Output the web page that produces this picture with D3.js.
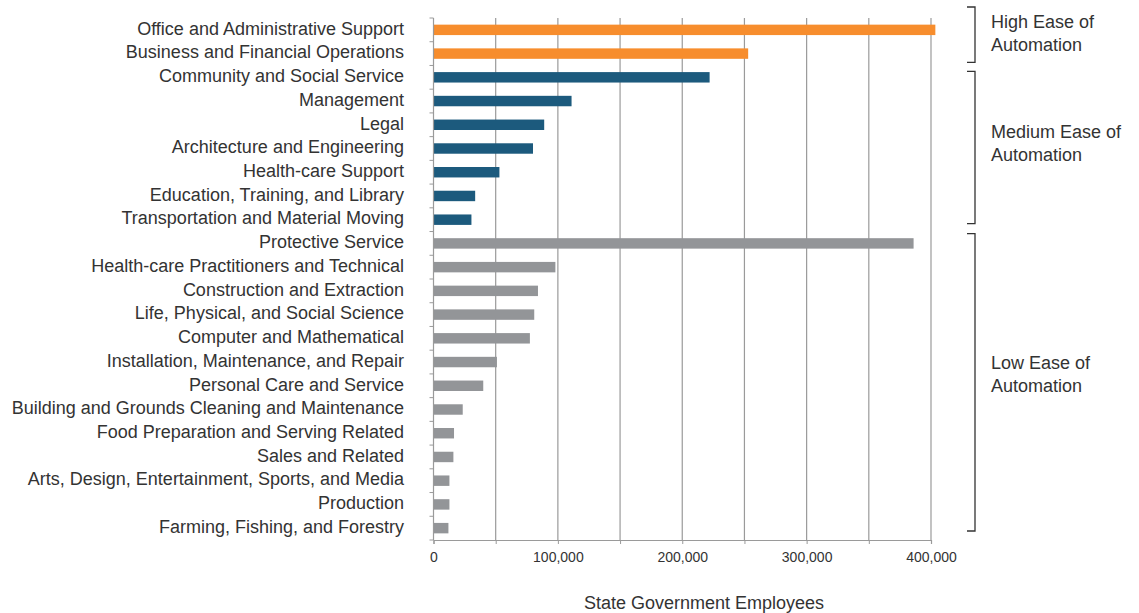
<!DOCTYPE html>
<html>
<head>
<meta charset="utf-8">
<script src="https://cdn.jsdelivr.net/npm/d3@7"></script>
<style>
  body { margin: 0; background: #fff; }
  svg { display: block; font-family: "Liberation Sans", Arial, sans-serif; }
</style>
</head>
<body>
<svg id="chart" width="1139" height="613"></svg>
<script>
const categories = [
  "Office and Administrative Support",
  "Business and Financial Operations",
  "Community and Social Service",
  "Management",
  "Legal",
  "Architecture and Engineering",
  "Health-care Support",
  "Education, Training, and Library",
  "Transportation and Material Moving",
  "Protective Service",
  "Health-care Practitioners and Technical",
  "Construction and Extraction",
  "Life, Physical, and Social Science",
  "Computer and Mathematical",
  "Installation, Maintenance, and Repair",
  "Personal Care and Service",
  "Building and Grounds Cleaning and Maintenance",
  "Food Preparation and Serving Related",
  "Sales and Related",
  "Arts, Design, Entertainment, Sports, and Media",
  "Production",
  "Farming, Fishing, and Forestry"
];
const employees = [403500, 253000, 222000, 111000, 89000, 80000, 53000, 33500, 30500,
  386000, 98000, 84000, 81000, 77500, 51000, 40000, 23500, 16500, 16000, 12800, 12800, 12000];
const groups = ["high", "high", "medium", "medium", "medium", "medium", "medium", "medium", "medium",
  "low", "low", "low", "low", "low", "low", "low", "low", "low", "low", "low", "low", "low"];
const groupLabels = [
  { key: "high", lines: ["High Ease of", "Automation"] },
  { key: "medium", lines: ["Medium Ease of", "Automation"] },
  { key: "low", lines: ["Low Ease of", "Automation"] }
];
const xTicks = [0, 100000, 200000, 300000, 400000];
const gridValues = d3.range(50000, 400001, 50000);

const colors = { high: "#f78d2d", medium: "#1c5a7d", low: "#939598" };
const margin = { top: 18, right: 205, bottom: 73, left: 433.5 };
const width = 1139, height = 613;

const data = categories.map((c, i) => ({ name: c, value: employees[i], group: groups[i] }));

const svg = d3.select("#chart");

const x = d3.scaleLinear().domain([0, 400000]).range([margin.left, 931]);
const y = d3.scaleBand().domain(categories).range([margin.top, height - margin.bottom]).paddingInner(0.56).paddingOuter(0.28);
const step = y.step();

// gridlines
svg.append("g").selectAll("line").data(gridValues).join("line")
  .attr("x1", d => x(d)).attr("x2", d => x(d))
  .attr("y1", margin.top).attr("y2", height - margin.bottom)
  .attr("stroke", "#9a9a9a").attr("stroke-width", 1.2);

// bars
svg.append("g").selectAll("rect").data(data).join("rect")
  .attr("x", x(0))
  .attr("y", d => y(d.name))
  .attr("width", d => x(d.value) - x(0))
  .attr("height", y.bandwidth())
  .attr("fill", d => colors[d.group]);

// x axis
const xAxis = svg.append("g")
  .attr("transform", `translate(0,${height - margin.bottom})`)
  .call(d3.axisBottom(x).tickValues(gridValues.concat([0])).tickSize(4).tickFormat(d => xTicks.includes(d) ? d3.format(",")(d) : ""));
xAxis.select(".domain").attr("stroke", "#9a9a9a").attr("stroke-width", 1.2);
xAxis.selectAll(".tick line").attr("stroke", "#9a9a9a");
xAxis.selectAll(".tick text").attr("fill", "#333").attr("font-size", 14).attr("dy", "1.05em");

// y axis line with boundary ticks
const yTop = margin.top, yBot = height - margin.bottom;
svg.append("line").attr("x1", x(0)).attr("x2", x(0)).attr("y1", yTop).attr("y2", yBot)
  .attr("stroke", "#9a9a9a").attr("stroke-width", 1.2);
const bounds = d3.range(categories.length + 1).map(i => yTop + i * step);
svg.append("g").selectAll("line").data(bounds).join("line")
  .attr("x1", x(0) - 4).attr("x2", x(0))
  .attr("y1", d => d).attr("y2", d => d)
  .attr("stroke", "#9a9a9a");

// category labels
svg.append("g").selectAll("text").data(data).join("text")
  .attr("x", 404)
  .attr("y", d => y(d.name) + y.bandwidth() / 2 - 1.5)
  .attr("dy", "0.35em")
  .attr("text-anchor", "end")
  .attr("font-size", 18)
  .attr("fill", "#333")
  .text(d => d.name);

// x title
svg.append("text")
  .attr("x", 704).attr("y", 609)
  .attr("text-anchor", "middle")
  .attr("font-size", 18).attr("fill", "#333")
  .text("State Government Employees");

// group brackets
const bx = 975;
const bracketPad = { high: [-11, -3], medium: [6, -8], low: [2, -9] };
const textShift = { high: -2, medium: -4, low: -8 };
groupLabels.forEach(g => {
  const idx = groups.map((v, i) => v === g.key ? i : -1).filter(i => i >= 0);
  const top = yTop + idx[0] * step + bracketPad[g.key][0];
  const bot = yTop + (idx[idx.length - 1] + 1) * step + bracketPad[g.key][1];
  svg.append("path")
    .attr("d", `M${bx - 8},${top}H${bx}V${bot}H${bx - 8}`)
    .attr("fill", "none").attr("stroke", "#333").attr("stroke-width", 1.3);
  const mid = (top + bot) / 2 + textShift[g.key];
  const t = svg.append("text").attr("x", 991).attr("font-size", 18).attr("fill", "#333");
  g.lines.forEach((line, j) => {
    t.append("tspan").attr("x", 991).attr("y", mid + (j - 0.5) * 23).attr("dy", "0.35em").text(line);
  });
});
</script>
</body>
</html>
